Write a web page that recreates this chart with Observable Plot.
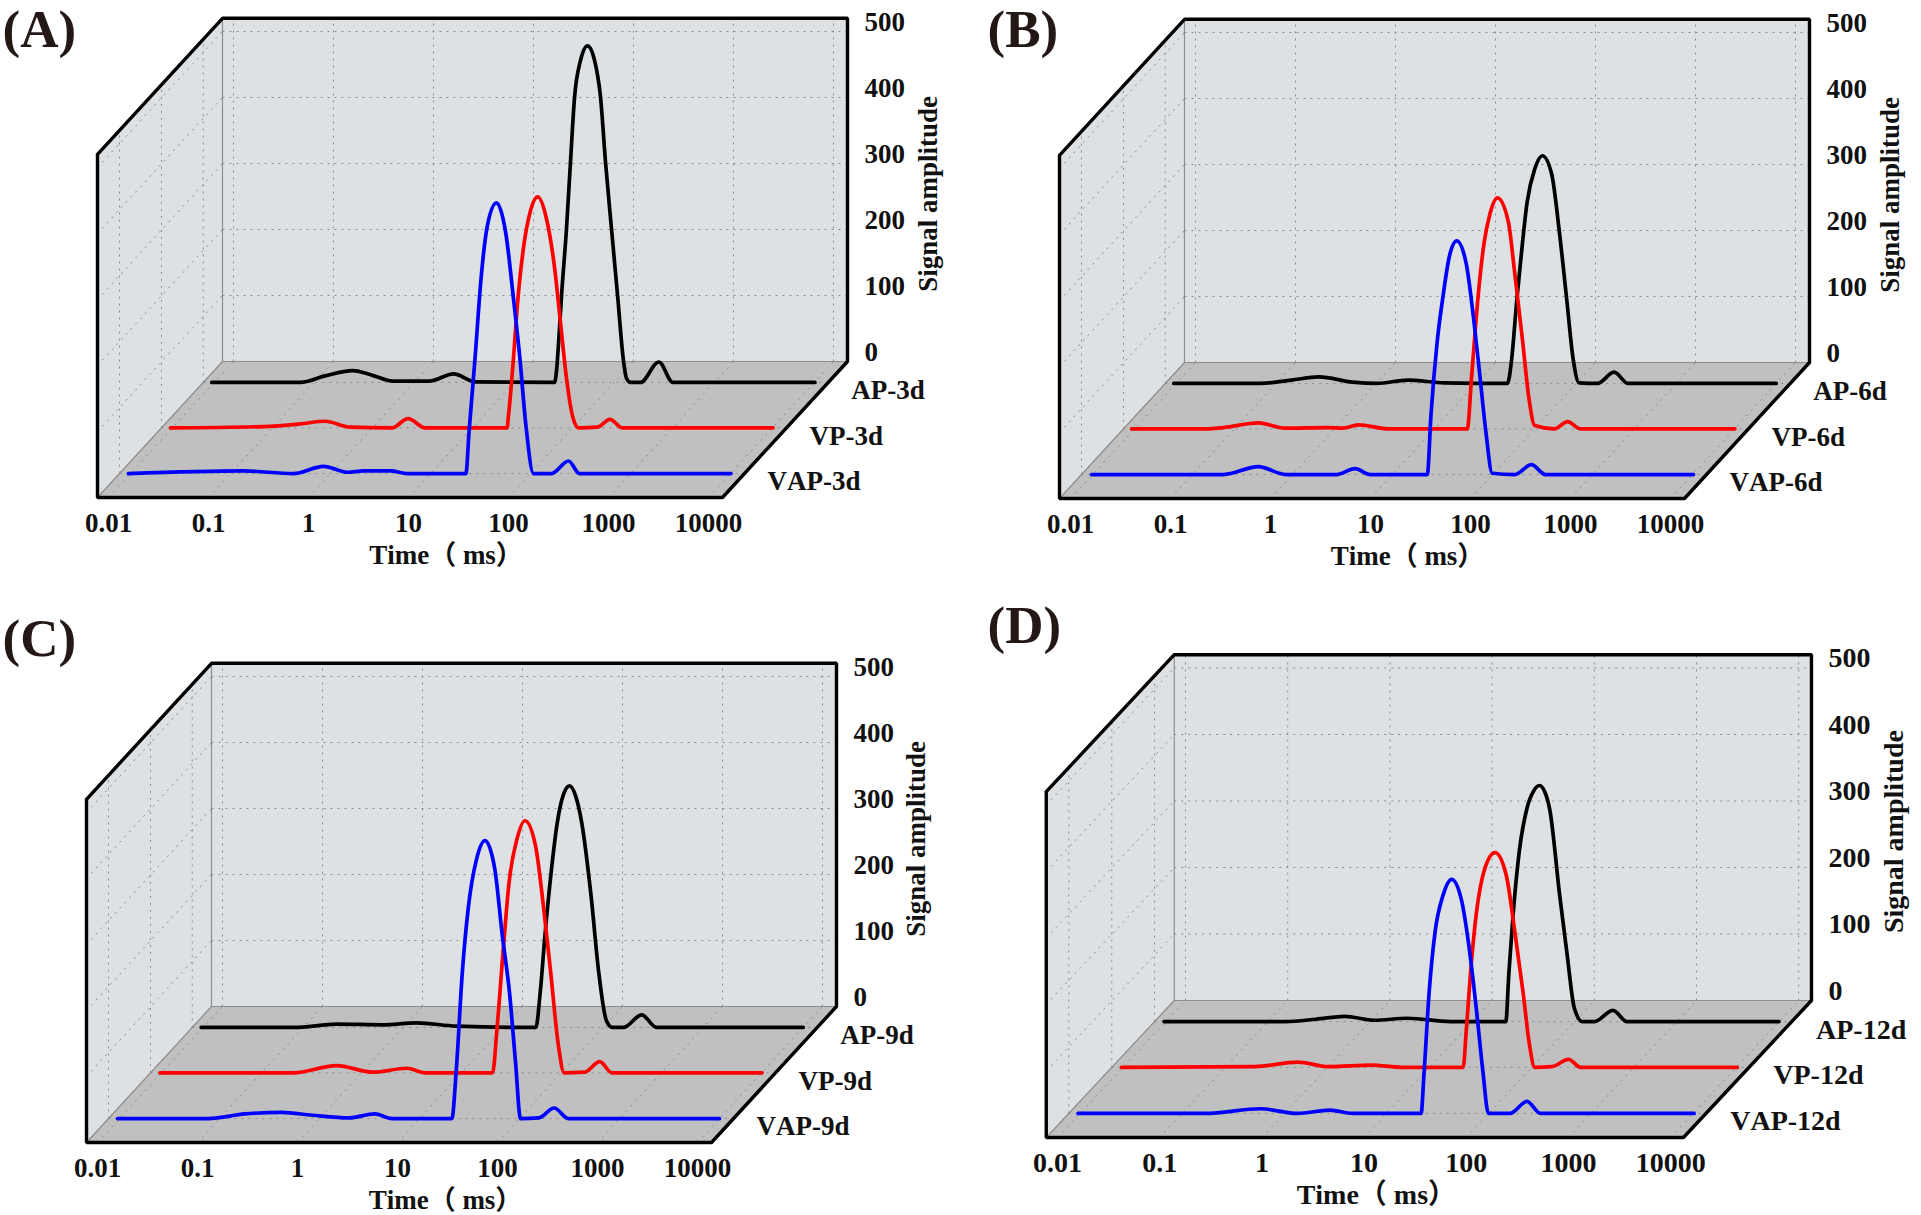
<!DOCTYPE html>
<html>
<head>
<meta charset="utf-8">
<script src="https://cdn.jsdelivr.net/npm/d3@7"></script>
<script src="https://cdn.jsdelivr.net/npm/@observablehq/plot@0.6"></script>
<style>
html,body{margin:0;padding:0;background:#fff;}
#root{position:relative;width:1921px;height:1215px;overflow:hidden;}
#root svg{position:absolute;background:transparent;overflow:visible;}
#root svg text{font-kerning:none;}
</style>
</head>
<body>
<div id="root"></div>
<script>
// Tick labels
const timeTicks = [-2,-1,0,1,2,3,4];
const timeTickLabels = ["0.01","0.1","1","10","100","1000","10000"];
const ampTicks = [0,100,200,300,400,500];

// Series: log10(time, ms) and signal amplitude
const apA_t = [-2.025,-1.137,-0.892,-0.616,-0.402,-0.218,0.149,0.394,0.608,1.403,1.423,1.448,1.473,1.522,1.562,1.603,1.663,1.733,1.803,1.863,1.913,1.973,2.033,2.093,2.123,2.163,2.262,2.446,2.587,4.007];
const apA_v = [0,0,10,18,10,2,2,13,1,0,18,71,132,232,333,432,488,510,488,432,333,232,132,32,6,0,0,31,0,0];
const vpA_t = [-2.02,-1.09,-0.723,-0.474,-0.224,0.196,0.356,0.526,1.346,1.359,1.408,1.451,1.512,1.573,1.653,1.738,1.818,1.879,1.940,2.002,2.063,2.246,2.376,2.496,4.006];
const vpA_v = [0,2,6,10,1,0,14,0,0,17,102,190,275,325,350,318,246,161,75,17,0,1,13,0,0];
const vapA_t = [-2.02,-0.87,-0.37,-0.07,0.17,0.33,0.60,0.77,1.354,1.385,1.446,1.507,1.568,1.660,1.752,1.832,1.893,1.954,2.03,2.21,2.38,2.49,4.005];
const vapA_v = [0,4,0,11,2,4,4,0,0,62,176,298,375,410,365,262,176,73,0,0,19,0,0];

const apB_t = [-2.025,-1.155,-0.849,-0.574,-0.237,0.008,0.314,0.682,1.312,1.355,1.404,1.447,1.509,1.585,1.661,1.753,1.833,1.907,1.968,2.029,2.213,2.378,2.519,4.0];
const apB_v = [0,0,5,10,2,0,5,1,0,38,124,190,275,325,345,318,227,124,38,1,0,17,0,0];
const vpB_t = [-2.03,-1.29,-1.11,-0.76,-0.497,-0.068,0.085,0.238,0.544,1.328,1.371,1.432,1.493,1.555,1.629,1.738,1.800,1.879,1.941,2.002,2.198,2.332,2.455,4.004];
const vpB_v = [0,0,2,9,1,2,1,6,0,0,79,194,279,326,350,314,239,136,50,5,0,11,0,0];
const vapB_t = [-2.01,-0.69,-0.342,-0.066,0.44,0.625,0.778,1.348,1.385,1.446,1.507,1.568,1.642,1.734,1.813,1.875,1.936,1.997,2.223,2.389,2.530,4.01];
const vapB_v = [0,0,12,0,0,9,0,0,91,200,272,330,354,322,234,148,62,2,0,15,0,0];

const apC_t = [-2.02,-1.093,-0.664,-0.205,0.131,0.53,1.295,1.326,1.369,1.418,1.479,1.54,1.60,1.663,1.725,1.785,1.877,1.956,2.03,2.091,2.201,2.385,2.532,4.0];
const apC_v = [0,0,5,4,7,2,0,0,52,141,235,310,352,366,350,310,201,82,11,0,0,19,0,0];
const vpC_t = [-2.015,-0.68,-0.251,0.116,0.453,0.637,1.311,1.353,1.415,1.476,1.556,1.635,1.739,1.819,1.892,1.966,2.027,2.229,2.382,2.505,4.005];
const vpC_v = [0,0,11,1,7,0,0,63,182,289,355,382,345,253,152,45,0,1,17,0,0];
const vapC_t = [-2.02,-1.113,-0.746,-0.378,-0.072,0.295,0.553,0.724,1.324,1.367,1.428,1.49,1.569,1.655,1.753,1.826,1.9,1.961,2.01,2.194,2.347,2.488,4.0];
const vapC_v = [0,0,7,9.5,5,1,7,0,0,72,221,322,392,421,378,280,191,84,0,1,16,0,0];

const apD_t = [-2.017,-0.83,-0.53,-0.25,0.038,0.368,0.787,1.327,1.357,1.398,1.458,1.536,1.60,1.656,1.71,1.758,1.854,1.926,1.998,2.076,2.195,2.375,2.513,4.0];
const apD_v = [0,0,3.5,8,2,5,0,0,73,160,255,322,347,355,345,318,190,102,20,0,0,17,0,0];
const vpD_t = [-2.015,-0.709,-0.29,0.01,0.429,0.729,1.328,1.358,1.4,1.46,1.538,1.64,1.748,1.837,1.915,1.975,2.029,2.197,2.359,2.478,4.012];
const vpD_v = [0,1,8,1,3.5,0,0,54,142,235,298,323,290,200,112,36,0,1,12,0,0];
const vapD_t = [-2.019,-0.772,-0.233,0.126,0.444,0.666,1.337,1.367,1.415,1.475,1.552,1.636,1.732,1.816,1.882,1.942,1.996,2.206,2.373,2.505,4.009];
const vapD_v = [0,0,7,0,5,0,0,63,180,274,328,352,321,239,151,63,0,0,18,0,0];

const seriesNames = ["AP","VP","VAP"];
const seriesColors = ["#000000","#ff0000","#0000ff"];
const seriesDepths = [0.846,0.512,0.176];

const panelData = {
  A:{tag:"3d",t:[apA_t,vpA_t,vapA_t],v:[apA_v,vpA_v,vapA_v]},
  B:{tag:"6d",t:[apB_t,vpB_t,vapB_t],v:[apB_v,vpB_v,vapB_v]},
  C:{tag:"9d",t:[apC_t,vpC_t,vapC_t],v:[apC_v,vpC_v,vapC_v]},
  D:{tag:"12d",t:[apD_t,vpD_t,vapD_t],v:[apD_v,vpD_v,vapD_v]}
};

// Layout of each panel's SVG
const layouts = [
  {id:"A",left:0,  top:0,  w:960,h:600,x0:108,y0:497,dec:100,  amp:0.66, dx:125,dy:136,xr:4.14, labelX:2, labelY:30,timeLog:1.375,titleDx:80.5,font:27},
  {id:"B",left:960,top:0,  w:961,h:600,x0:110,y0:498,dec:100,  amp:0.66, dx:125,dy:136,xr:4.14, labelX:27,labelY:30,timeLog:1.37, titleDx:80.5,font:27},
  {id:"C",left:0,  top:600,w:960,h:615,x0:97, y0:542,dec:100,  amp:0.66, dx:125,dy:136,xr:4.14, labelX:2, labelY:39,timeLog:1.48, titleDx:80,font:27},
  {id:"D",left:960,top:600,w:961,h:615,x0:97, y0:537,dec:102.2,amp:0.665,dx:128,dy:137,xr:4.125,labelX:27,labelY:26,timeLog:1.12, titleDx:83,font:28}
];

const SERIF = '"Liberation Serif","Noto Sans CJK SC",serif';
const root = document.getElementById("root");

for (const L of layouts) {
  const bold = {fontFamily:SERIF,fontWeight:"bold",fontSize:L.font,fill:"#111"};
  const kx = L.dx/L.dec, ky = L.dy/L.amp;
  const xl = -2.11, xr = L.xr, top = 520;
  const P = (lg,a,d)=>({x:lg+d*kx,y:a+d*ky});
  const seg = (a,b)=>{const p=P(...a),q=P(...b);return {x1:p.x,y1:p.y,x2:q.x,y2:q.y};};
  const data = panelData[L.id];

  const backWall = [P(xl,0,1),P(xr,0,1),P(xr,top,1),P(xl,top,1),P(xl,0,1)];
  const leftWall = [P(xl,0,0),P(xl,0,1),P(xl,top,1),P(xl,top,0),P(xl,0,0)];
  const floor    = [P(xl,0,0),P(xr,0,0),P(xr,0,1),P(xl,0,1),P(xl,0,0)];
  const frame    = [P(xl,top,0),P(xl,0,0),P(xr,0,0),P(xr,0,1),P(xr,top,1),P(xl,top,1),P(xl,top,0)];

  const grid = [];
  for (const t of timeTicks) {
    grid.push(seg([t,0,1],[t,top,1]));   // back wall verticals
    grid.push(seg([t,0,0],[t,0,1]));     // floor diagonals
  }
  for (const a of ampTicks) {
    grid.push(seg([xl,a,1],[xr,a,1]));   // back wall horizontals
    grid.push(seg([xl,a,0],[xl,a,1]));   // left wall diagonals
  }
  for (const d of seriesDepths) {
    grid.push(seg([xl,0,d],[xl,top,d])); // left wall verticals
    grid.push(seg([xl,0,d],[xr,0,d]));   // floor lines
  }
  const edges = [seg([xl,0,1],[xl,top,1]),seg([xl,0,1],[xr,0,1]),seg([xl,0,0],[xl,0,1])];

  const curves = seriesNames.map((name,i)=>Plot.line(
    data.t[i].map((t,j)=>P(t,data.v[i][j],seriesDepths[i])),
    {x:"x",y:"y",stroke:seriesColors[i],strokeWidth:3.7,curve:"monotone-x",strokeLinejoin:"round"}
  ));

  const seriesLabels = seriesNames.map((name,i)=>{
    const p = P(4,0,seriesDepths[i]);
    return {x:p.x,y:p.y,text:`${name}-${data.tag}`};
  });
  const xTickRows = timeTicks.map((t,i)=>({x:t,y:0,text:timeTickLabels[i]}));
  const yTickRows = ampTicks.map(a=>{const p=P(xr,a,1);return {x:p.x,y:p.y,text:String(a)};});
  const yTitle = P(xr,254,1);

  const svg = Plot.plot({
    width:L.w,height:L.h,
    marginTop:0,marginRight:0,marginBottom:0,marginLeft:0,
    x:{axis:null,domain:[-2-L.x0/L.dec,-2+(L.w-L.x0)/L.dec],range:[0,L.w]},
    y:{axis:null,domain:[(L.y0-L.h)/L.amp,L.y0/L.amp],range:[L.h,0]},
    marks:[
      Plot.line(backWall,{x:"x",y:"y",fill:"#dde1e4",stroke:"none"}),
      Plot.line(leftWall,{x:"x",y:"y",fill:"#dde1e4",stroke:"none"}),
      Plot.line(floor,{x:"x",y:"y",fill:"#c0c0c0",stroke:"none"}),
      Plot.link(grid,{x1:"x1",y1:"y1",x2:"x2",y2:"y2",stroke:"#8c8c8c",strokeWidth:1,strokeDasharray:"2,5"}),
      Plot.link(edges,{x1:"x1",y1:"y1",x2:"x2",y2:"y2",stroke:"#8e8e8e",strokeWidth:1.2}),
      Plot.line(frame,{x:"x",y:"y",stroke:"#000",strokeWidth:3.4,strokeLinejoin:"miter"}),
      ...curves,
      Plot.text(xTickRows,{x:"x",y:"y",text:"text",dy:26,textAnchor:"middle",...bold}),
      Plot.text(yTickRows,{x:"x",y:"y",text:"text",dx:17,dy:-9.5,textAnchor:"start",...bold}),
      Plot.text(seriesLabels,{x:"x",y:"y",text:"text",dx:37,dy:8,textAnchor:"start",...bold}),
      Plot.text(["Time（ ms）"],{x:[L.timeLog],y:[0],text:d=>d,dy:58,textAnchor:"middle",...bold}),
      Plot.text(["Signal amplitude"],{x:[yTitle.x],y:[yTitle.y],text:d=>d,dx:L.titleDx,rotate:-90,textAnchor:"middle",...bold}),
      Plot.text([`(${L.id})`],{frameAnchor:"top-left",dx:L.labelX,dy:L.labelY,lineAnchor:"middle",textAnchor:"start",text:d=>d,fontFamily:SERIF,fontWeight:"bold",fontSize:53,fill:"#231815"})
    ]
  });
  svg.style.left = L.left+"px";
  svg.style.top = L.top+"px";
  root.appendChild(svg);
}
</script>
</body>
</html>
